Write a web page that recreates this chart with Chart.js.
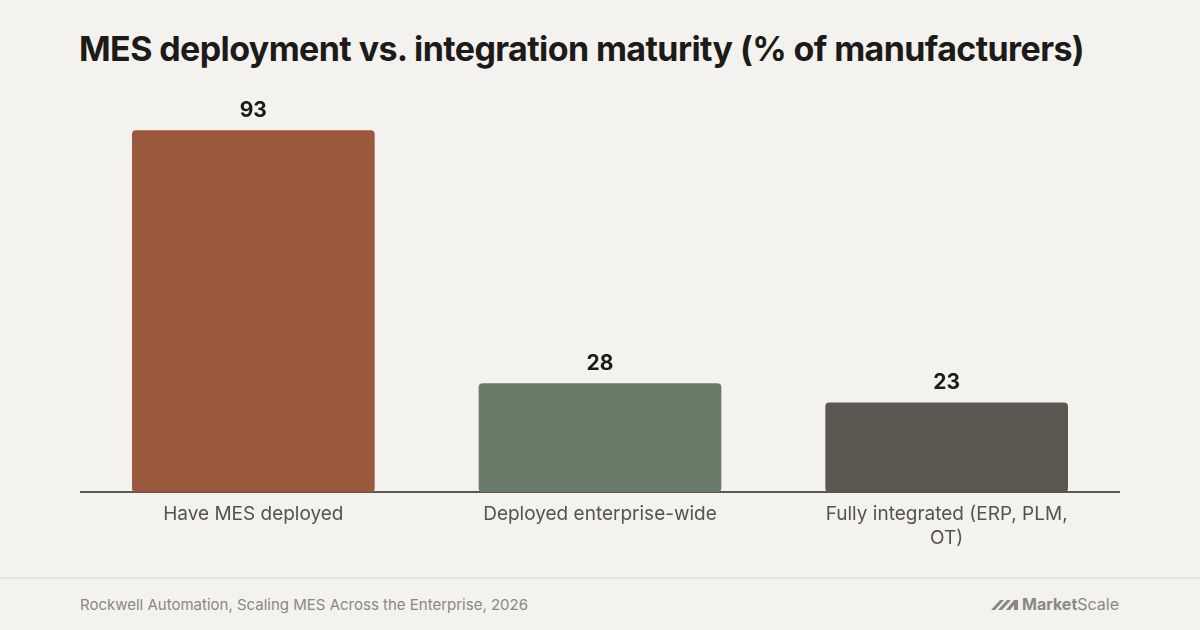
<!DOCTYPE html>
<html>
<head>
<meta charset="utf-8">
<script src="https://cdn.jsdelivr.net/npm/chart.js@4.4.1/dist/chart.umd.min.js"></script>
<style>
  html, body { margin: 0; padding: 0; }
  body { width: 1200px; height: 630px; background: #f4f2ee; position: relative; overflow: hidden; font-family: Inter, "Noto Sans", sans-serif; }
  #title { position: absolute; left: 79px; top: 28px; font-size: 34px; font-weight: 700; color: #1c1b19; letter-spacing: -0.6px; white-space: nowrap; }
  #wrap { position: absolute; left: 80px; top: 60px; width: 1040px; height: 500px; }
  #rule { position: absolute; left: 0; top: 577px; width: 1200px; height: 2px; background: #e6e3de; }
  #source { position: absolute; left: 80px; top: 595px; font-size: 15px; color: #8b8882; }
  #logo { position: absolute; right: 81px; top: 594px; font-size: 16px; color: #8b8882; display: flex; align-items: center; gap: 3px; }
  #logo b { font-weight: 700; }
</style>
</head>
<body>
<div id="title">MES deployment vs. integration maturity (% of manufacturers)</div>
<div id="wrap"><canvas id="myChart"></canvas></div>
<div id="rule"></div>
<div id="source">Rockwell Automation, Scaling MES Across the Enterprise, 2026</div>
<div id="logo">
  <svg width="28" height="14" viewBox="0 0 28 14"><path d="M0 13 L9 3 L13 3 L4 13 Z M7 13 L16 3 L20 3 L11 13 Z M15 13 L23 3 L27 3 L27 13 L23 13 L23 8 L19 13 Z" fill="#8b8882"/></svg>
  <span><b>Market</b>Scale</span>
</div>
<script>
// data
var categories = ['Have MES deployed', 'Deployed enterprise-wide', ['Fully integrated (ERP, PLM,', 'OT)']];
var values = [93, 28, 23];
var barColors = ['#9a583c', '#6b7b6a', '#5c5750'];

// value labels above bars
var valueLabels = {
  id: 'valueLabels',
  afterDatasetsDraw: function(chart) {
    var ctx = chart.ctx;
    var meta = chart.getDatasetMeta(0);
    ctx.save();
    ctx.font = 'bold 21px Inter, "Noto Sans", sans-serif';
    ctx.fillStyle = '#1c1b19';
    ctx.textAlign = 'center';
    ctx.textBaseline = 'bottom';
    meta.data.forEach(function(bar, i) {
      ctx.fillText(values[i], bar.x, bar.y - 9);
    });
    ctx.restore();
  }
};

var ctx = document.getElementById('myChart').getContext('2d');
var myChart = new Chart(ctx, {
  type: 'bar',
  data: {
    labels: categories,
    datasets: [{
      data: values,
      backgroundColor: barColors,
      borderRadius: 4,
      borderSkipped: false,
      barPercentage: 0.7,
      categoryPercentage: 1
    }]
  },
  options: {
    responsive: true,
    maintainAspectRatio: false,
    animation: false,
    layout: { padding: { top: 43, left: 0, right: 0, bottom: 0 } },
    plugins: {
      legend: { display: false },
      tooltip: { enabled: false }
    },
    scales: {
      x: {
        grid: { display: false, drawTicks: false },
        border: { display: true, color: '#5c5750', width: 2 },
        ticks: {
          color: '#56524c',
          padding: 10,
          font: { family: 'Inter, "Noto Sans", sans-serif', size: 19, lineHeight: 1.26 }
        }
      },
      y: {
        display: false,
        min: 0,
        max: 100
      }
    }
  },
  plugins: [valueLabels]
});
</script>
</body>
</html>
